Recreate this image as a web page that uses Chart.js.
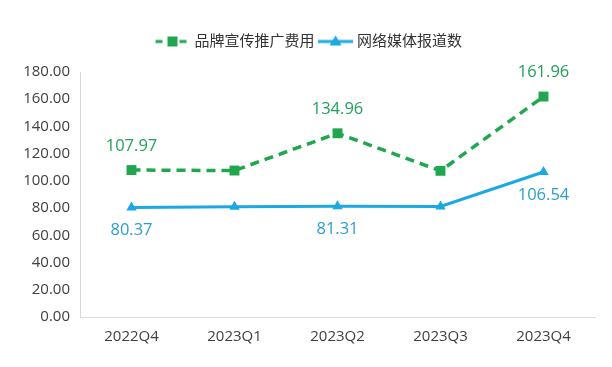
<!DOCTYPE html>
<html>
<head>
<meta charset="utf-8">
<script src="https://cdn.jsdelivr.net/npm/chart.js@4"></script>
<style>
  html, body { margin: 0; padding: 0; background: #fff; }
  #wrap { width: 612px; height: 367px; position: relative; }
</style>
</head>
<body>
<div id="wrap"><canvas id="c" width="612" height="367"></canvas></div>
<script>
// 数据
const categories = ['2022Q4', '2023Q1', '2023Q2', '2023Q3', '2023Q4'];
const promoCost = [107.97, 107.6, 134.96, 107.4, 161.96];
const mediaReports = [80.37, 81.0, 81.31, 81.2, 106.54];
// 只在这些点上显示数值
const labelIdx = [0, 2, 4];
const yTicks = [0, 20, 40, 60, 80, 100, 120, 140, 160, 180];

const GREEN = '#1fa64f';
const GREEN_TXT = '#21a05a';
const BLUE = '#1ca8e3';
const BLUE_TXT = '#2b9fcb';
const FONT = '"Open Sans", "Noto Sans CJK SC", sans-serif';

// 图例里的“线+标记”小图
function legendIcon(color, dashed, shape) {
    const cv = document.createElement('canvas');
    cv.width = 37; cv.height = 14;
    const g = cv.getContext('2d');
    g.strokeStyle = color;
    g.fillStyle = color;
    g.lineWidth = 3;
    if (dashed) g.setLineDash([7, 5]);
    g.beginPath();
    g.moveTo(1, 7); g.lineTo(36, 7);
    g.stroke();
    g.setLineDash([]);
    g.beginPath();
    if (shape === 'rect') {
        g.rect(13, 2, 10, 10);
    } else {
        g.moveTo(18.5, 1); g.lineTo(24.5, 11); g.lineTo(12.5, 11); g.closePath();
    }
    g.fill();
    return cv;
}

// 数值标签插件
const valueLabels = {
    id: 'valueLabels',
    afterDatasetsDraw(chart) {
        const ctx = chart.ctx;
        ctx.save();
        ctx.font = '16.5px ' + FONT;
        ctx.textAlign = 'center';
        ctx.textBaseline = 'middle';
        chart.data.datasets.forEach((ds, di) => {
            const meta = chart.getDatasetMeta(di);
            labelIdx.forEach(i => {
                const pt = meta.data[i];
                const off = di === 0 ? -24 : 23;
                ctx.fillStyle = di === 0 ? GREEN_TXT : BLUE_TXT;
                ctx.fillText(ds.data[i].toFixed(2), pt.x, pt.y + off);
            });
        });
        ctx.restore();
    }
};

// 图例下方留出更多空间，并稍微右移
const legendSpace = {
    id: 'legendSpace',
    beforeInit(chart) {
        const orig = chart.legend.fit;
        chart.legend.fit = function () {
            orig.call(this);
            this.height += 13;
        };
    },
    afterLayout(chart) {
        chart.legend.left += 13;
        chart.legend.right += 13;
    }
};

new Chart(document.getElementById('c'), {
    type: 'line',
    data: {
        labels: categories,
        datasets: [{
            label: '品牌宣传推广费用',
            data: promoCost,
            borderColor: GREEN,
            backgroundColor: GREEN,
            borderWidth: 3.5,
            borderDash: [9, 6],
            pointStyle: 'rect',
            pointRadius: 7,
            pointBackgroundColor: GREEN,
            pointBorderWidth: 0,
            tension: 0
        }, {
            label: '网络媒体报道数',
            data: mediaReports,
            borderColor: BLUE,
            backgroundColor: BLUE,
            borderWidth: 3,
            pointStyle: 'triangle',
            pointRadius: 6,
            pointBackgroundColor: BLUE,
            pointBorderWidth: 0,
            tension: 0
        }]
    },
    options: {
        responsive: false,
        animation: false,
        layout: { padding: { left: 0, right: 17, top: 27, bottom: 10 } },
        plugins: {
            legend: {
                display: true,
                position: 'top',
                labels: {
                    usePointStyle: true,
                    pointStyleWidth: 28,
                    boxHeight: 14,
                    padding: 7,
                    color: '#333',
                    font: { family: FONT, size: 15 },
                    generateLabels(chart) {
                        return [
                            { text: '品牌宣传推广费用', pointStyle: legendIcon(GREEN, true, 'rect'), fontColor: '#333', datasetIndex: 0, lineWidth: 0, strokeStyle: 'transparent', fillStyle: GREEN },
                            { text: '网络媒体报道数', pointStyle: legendIcon(BLUE, false, 'tri'), fontColor: '#333', datasetIndex: 1, lineWidth: 0, strokeStyle: 'transparent', fillStyle: BLUE }
                        ];
                    }
                }
            },
            tooltip: { enabled: false }
        },
        scales: {
            x: {
                offset: true,
                grid: { display: false, drawTicks: false },
                border: { display: true, color: '#d9d9d9', width: 1 },
                ticks: { color: '#404040', font: { family: FONT, size: 15 }, padding: 11 }
            },
            y: {
                min: 0,
                max: 180,
                afterFit(scale) { scale.width = 80; },
                afterBuildTicks(scale) { scale.ticks = yTicks.map(v => ({ value: v })); },
                grid: { display: false, drawTicks: false },
                border: { display: true, color: '#d9d9d9', width: 1 },
                ticks: {
                    color: '#404040',
                    font: { family: FONT, size: 15 },
                    padding: 10,
                    callback: v => v.toFixed(2)
                }
            }
        }
    },
    plugins: [legendSpace, valueLabels]
});
</script>
</body>
</html>
